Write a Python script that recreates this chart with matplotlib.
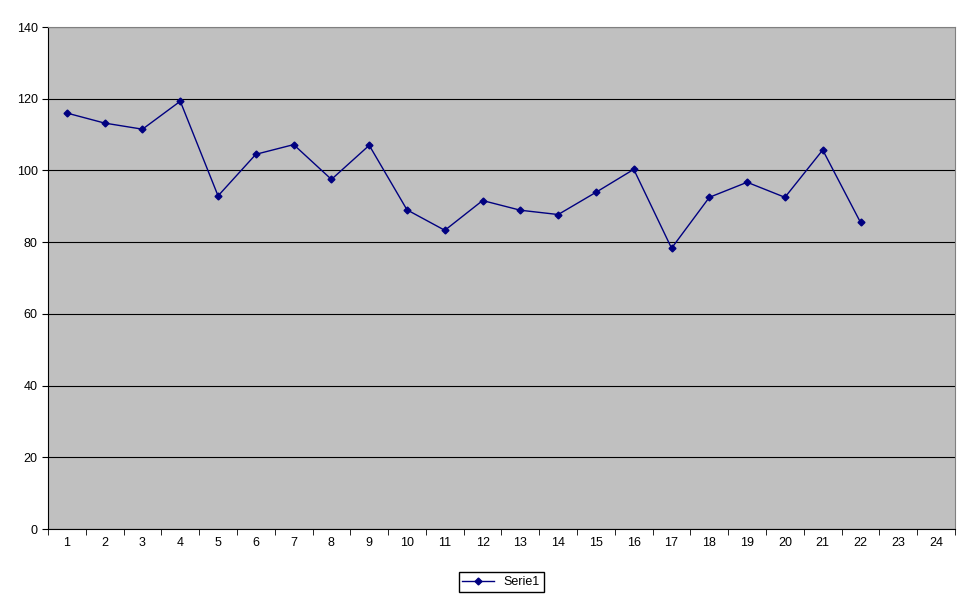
import matplotlib
matplotlib.use("Agg")
import matplotlib.pyplot as plt
import numpy as np

categories = list(range(1, 25))
values = [116.0, 113.2, 111.5, 119.3, 92.9, 104.5, 107.2, 97.5, 107.0, 89.0,
          83.3, 91.6, 88.9, 87.7, 93.9, 100.3, 78.3, 92.5, 96.7, 92.5, 105.7, 85.5]

plt.rcParams['font.family'] = ['Arial', 'Liberation Sans', 'DejaVu Sans']

fig = plt.figure(figsize=(9.7, 6.04), dpi=100)
ax = fig.add_axes([48 / 970, 75 / 604, 907 / 970, 502 / 604])
ax.set_facecolor('#C0C0C0')

x = np.arange(1, len(values) + 1)
line, = ax.plot(x, values, color='#000080', lw=1, marker='D', ms=3.5, label='Serie1')

ax.set_xlim(0.5, len(categories) + 0.5)
ax.set_ylim(0, 140)
ax.set_yticks(range(0, 141, 20))
ax.yaxis.grid(True, color='black', lw=0.8)
ax.set_axisbelow(True)

ax.set_xticks(categories)
ax.set_xticklabels([str(c) for c in categories])
ax.set_xticks(np.arange(0.5, len(categories) + 1), minor=True)
ax.tick_params(axis='x', which='major', length=0, labelsize=9, pad=6)
ax.tick_params(axis='x', which='minor', length=4, direction='out')
ax.tick_params(axis='y', labelsize=9, length=4)

for side in ['top', 'right']:
    ax.spines[side].set_color('#808080')
for side in ['left', 'bottom']:
    ax.spines[side].set_color('black')

fig.legend(handles=[line], loc='center', bbox_to_anchor=(501 / 970, 1 - 582 / 604),
           fontsize=9, fancybox=False, edgecolor='black', framealpha=1,
           handlelength=2.5, borderpad=0.3)

fig.savefig('out.png', dpi=100)
